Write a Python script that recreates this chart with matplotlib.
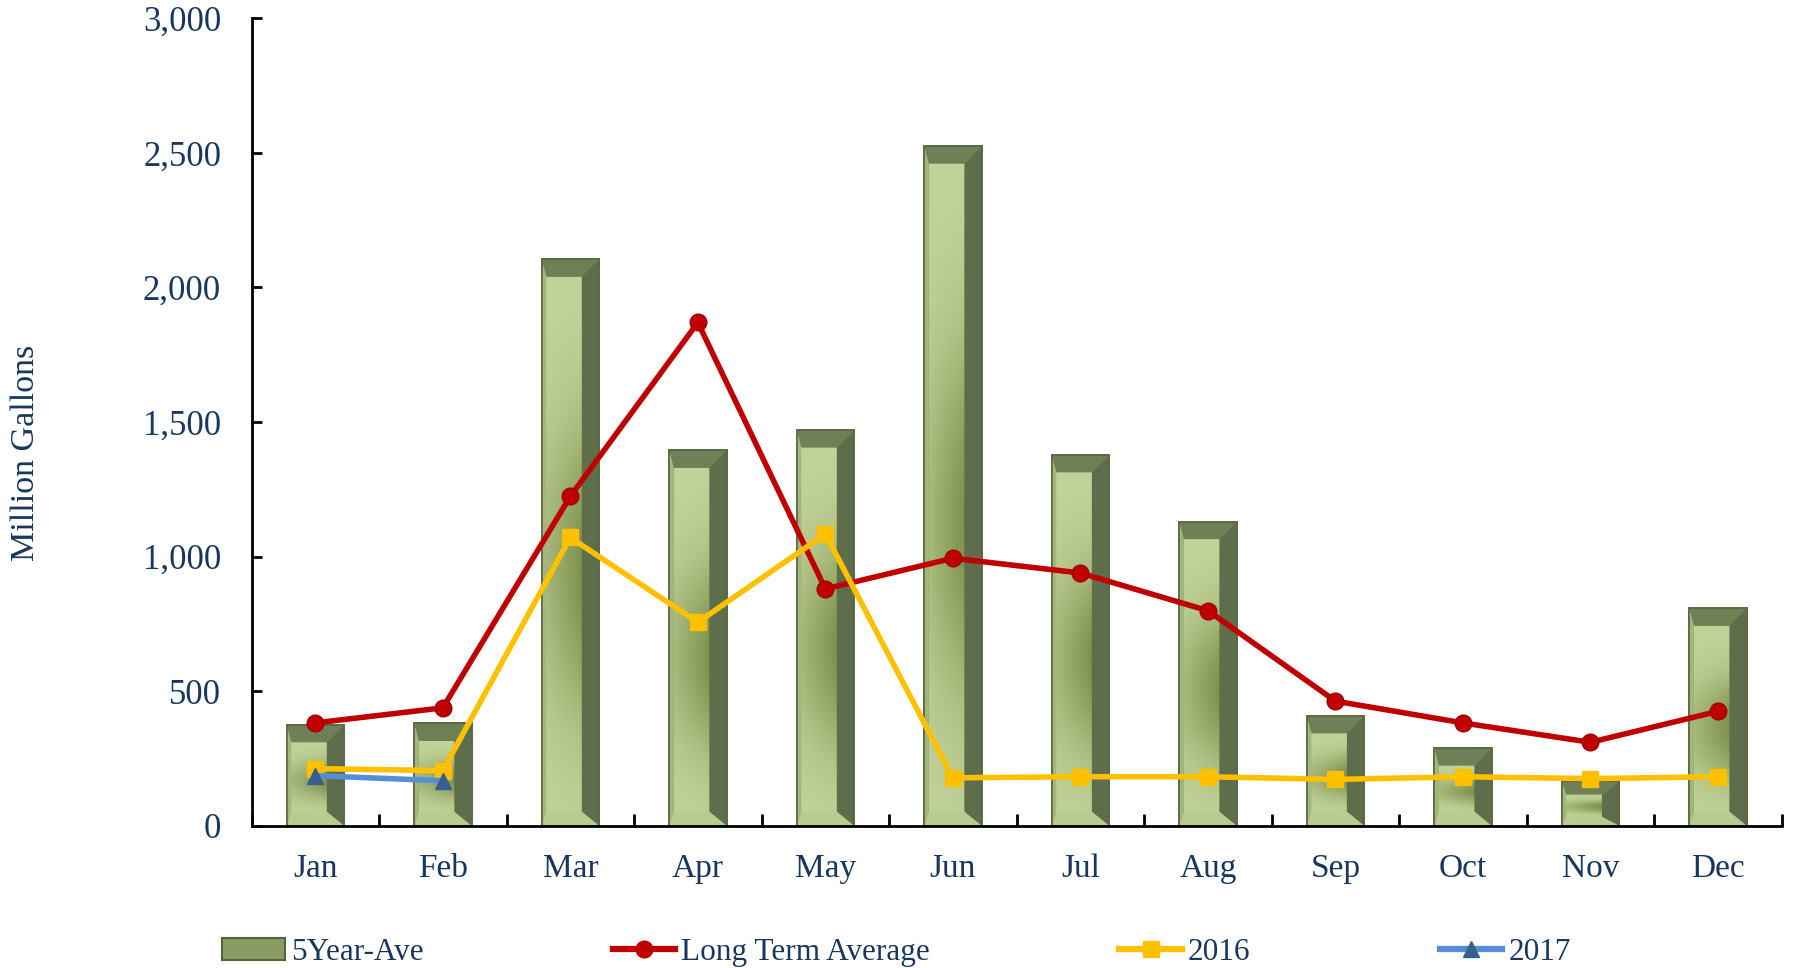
import numpy as np
import matplotlib.pyplot as plt
from matplotlib.patches import Polygon, Rectangle
from matplotlib.lines import Line2D

months = ['Jan', 'Feb', 'Mar', 'Apr', 'May', 'Jun',
          'Jul', 'Aug', 'Sep', 'Oct', 'Nov', 'Dec']
five_year_ave = [375, 380, 2105, 1395, 1470, 2525, 1378, 1130, 408, 288, 165, 808]
long_term_avg = [382, 438, 1224, 1870, 880, 994, 939, 799, 463, 382, 310, 425]
y2016 = [212, 205, 1071, 756, 1084, 178, 182, 182, 172, 182, 175, 182]
y2017 = [186, 167]

text_color = '#17375e'
plt.rcParams['font.family'] = ['Liberation Serif', 'DejaVu Serif']

fig = plt.figure(figsize=(17.93, 9.68), dpi=100)
ax = fig.add_axes([0.1403, 0.147, 0.8534, 0.834])

x = np.arange(len(months))
width = 0.45
ax.set_xlim(-0.5, 11.5)
ax.set_ylim(0, 3000)

# face gradient: light edges, darker olive blob in the middle
gx = np.linspace(0, 1, 40)
gy = np.linspace(0, 1, 80)
GX, GY = np.meshgrid(gx, gy)
light = np.array([0.76, 0.83, 0.60])
dark = np.array([0.45, 0.52, 0.25])
t = np.exp(-((GY - 0.45) / 0.28) ** 2) * (0.35 + 0.5 * GX)
grad = light[None, None, :] * (1 - t[..., None]) + dark[None, None, :] * t[..., None]

bars = ax.bar(x, five_year_ave, width, color='#8a9b64', edgecolor='#55633f',
              linewidth=1.2, zorder=2)
bevel = 65  # in data units
for rect in bars:
    x0 = rect.get_x()
    x1 = x0 + rect.get_width()
    y1 = rect.get_height()
    bl = rect.get_width() * 0.08
    br = rect.get_width() * 0.30
    bt = min(bevel, y1 * 0.3)
    bb = min(bevel * 0.8, y1 * 0.2)
    ax.imshow(grad, extent=(x0 + bl, x1 - br, bb, y1 - bt),
              aspect='auto', origin='lower', zorder=2.1)
    ax.add_patch(Polygon([(x0, y1), (x1, y1), (x1 - br, y1 - bt), (x0 + bl, y1 - bt)],
                         closed=True, facecolor='#6f7f56', edgecolor='none', zorder=2.2))
    ax.add_patch(Polygon([(x1, y1), (x1, 0), (x1 - br, bb), (x1 - br, y1 - bt)],
                         closed=True, facecolor='#5f6e4a', edgecolor='none', zorder=2.2))
    ax.add_patch(Polygon([(x0, y1), (x0 + bl, y1 - bt), (x0 + bl, bb), (x0, 0)],
                         closed=True, facecolor='#a3b67c', edgecolor='none', zorder=2.2))
    ax.add_patch(Polygon([(x0, 0), (x0 + bl, bb), (x1 - br, bb), (x1, 0)],
                         closed=True, facecolor='#b9cc90', edgecolor='none', zorder=2.2))
    ax.add_patch(Rectangle((x0, 0), x1 - x0, y1, fill=False, edgecolor='#5a6843',
                           linewidth=1.2, zorder=2.3))

ax.plot(x, long_term_avg, color='#c00000', linewidth=4, marker='o',
        markersize=12, markerfacecolor='#c00000', markeredgecolor='#a00000', zorder=4)
ax.plot(x, y2016, color='#ffc000', linewidth=4, marker='s',
        markersize=12, markerfacecolor='#ffc000', markeredgecolor='#ffc000', zorder=5)
ax.plot(x[:len(y2017)], y2017, color='#558ed5', linewidth=4, marker='^',
        markersize=11, markerfacecolor='#376092', markeredgecolor='#376092', zorder=6)

ax.spines['top'].set_visible(False)
ax.spines['right'].set_visible(False)
for s in ['left', 'bottom']:
    ax.spines[s].set_linewidth(2)
    ax.spines[s].set_color('black')

ax.set_yticks(np.arange(0, 3001, 500))
ax.set_yticklabels(['{:,}'.format(v) for v in range(0, 3001, 500)])
ax.tick_params(axis='y', direction='in', length=7, width=2, pad=22,
               labelsize=25, labelcolor=text_color)
ax.set_xticks(x)
ax.set_xticklabels(months)
ax.tick_params(axis='x', which='major', length=0, pad=20, labelsize=24,
               labelcolor=text_color)
ax.set_xticks(np.arange(-0.5, 12, 1), minor=True)
ax.tick_params(axis='x', which='minor', direction='in', length=9, width=2)

fig.text(0.0145, 0.532, 'Million Gallons', rotation=90, va='center', ha='center',
         fontsize=24.5, color=text_color)

handles = [
    Rectangle((0, 0), 1, 1, facecolor='#8a9b64', edgecolor='#55633f', linewidth=1.5),
    Line2D([], [], color='#c00000', linewidth=4.5, marker='o', markersize=12),
    Line2D([], [], color='#ffc000', linewidth=4.5, marker='s', markersize=12),
    Line2D([], [], color='#558ed5', linewidth=4.5, marker='^', markersize=12,
           markerfacecolor='#376092', markeredgecolor='#376092'),
]
labels = ['5Year-Ave', 'Long Term Average', '2016', '2017']
leg = fig.legend(handles, labels, loc='center left', bbox_to_anchor=(0.117, 0.016),
                 ncol=4, frameon=False, fontsize=22.5, handlelength=2.0,
                 handletextpad=0.2, columnspacing=6.05, borderaxespad=0)
for txt in leg.get_texts():
    txt.set_color(text_color)

fig.savefig('out.png', dpi=100)
